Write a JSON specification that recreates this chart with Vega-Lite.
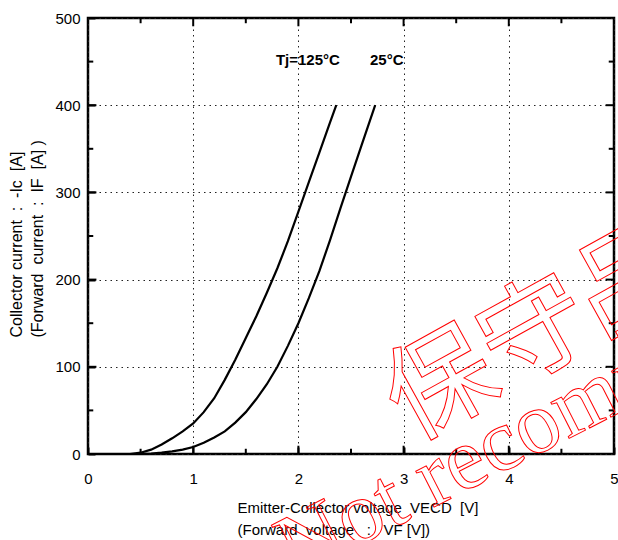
{
  "$schema": "https://vega.github.io/schema/vega-lite/v6.json",
  "width": 526,
  "height": 436,
  "autosize": {"type": "none"},
  "padding": {"left": 88, "top": 18, "right": 4, "bottom": 86},
  "background": "white",
  "config": {
    "view": {"stroke": "black", "strokeWidth": 2.5},
    "font": "Liberation Sans"
  },
  "datasets": {
    "curves": [
      {"Tj": "125C", "V": 0.0, "I": 0},
      {"Tj": "125C", "V": 0.4, "I": 0},
      {"Tj": "125C", "V": 0.5, "I": 1.5},
      {"Tj": "125C", "V": 0.6, "I": 5},
      {"Tj": "125C", "V": 0.7, "I": 11},
      {"Tj": "125C", "V": 0.8, "I": 18},
      {"Tj": "125C", "V": 0.9, "I": 26},
      {"Tj": "125C", "V": 1.0, "I": 35},
      {"Tj": "125C", "V": 1.1, "I": 48},
      {"Tj": "125C", "V": 1.2, "I": 64},
      {"Tj": "125C", "V": 1.3, "I": 85},
      {"Tj": "125C", "V": 1.4, "I": 108},
      {"Tj": "125C", "V": 1.5, "I": 133},
      {"Tj": "125C", "V": 1.6, "I": 158},
      {"Tj": "125C", "V": 1.7, "I": 185},
      {"Tj": "125C", "V": 1.8, "I": 213},
      {"Tj": "125C", "V": 1.9, "I": 244},
      {"Tj": "125C", "V": 2.0, "I": 278},
      {"Tj": "125C", "V": 2.1, "I": 312},
      {"Tj": "125C", "V": 2.2, "I": 346},
      {"Tj": "125C", "V": 2.3, "I": 380},
      {"Tj": "125C", "V": 2.36, "I": 400},
      {"Tj": "25C", "V": 0.0, "I": 0},
      {"Tj": "25C", "V": 0.5, "I": 0},
      {"Tj": "25C", "V": 0.6, "I": 0.5},
      {"Tj": "25C", "V": 0.7, "I": 1.5},
      {"Tj": "25C", "V": 0.8, "I": 3},
      {"Tj": "25C", "V": 0.9, "I": 5},
      {"Tj": "25C", "V": 1.0, "I": 8},
      {"Tj": "25C", "V": 1.1, "I": 13},
      {"Tj": "25C", "V": 1.2, "I": 19},
      {"Tj": "25C", "V": 1.3, "I": 26},
      {"Tj": "25C", "V": 1.4, "I": 36},
      {"Tj": "25C", "V": 1.5, "I": 48},
      {"Tj": "25C", "V": 1.6, "I": 63},
      {"Tj": "25C", "V": 1.7, "I": 80},
      {"Tj": "25C", "V": 1.8, "I": 100},
      {"Tj": "25C", "V": 1.9, "I": 124},
      {"Tj": "25C", "V": 2.0, "I": 150},
      {"Tj": "25C", "V": 2.1, "I": 179},
      {"Tj": "25C", "V": 2.2, "I": 210},
      {"Tj": "25C", "V": 2.3, "I": 245},
      {"Tj": "25C", "V": 2.4, "I": 282},
      {"Tj": "25C", "V": 2.5, "I": 318},
      {"Tj": "25C", "V": 2.6, "I": 354},
      {"Tj": "25C", "V": 2.73, "I": 400}
    ],
    "xmajor": [{"v": 1}, {"v": 2}, {"v": 3}, {"v": 4}],
    "xminor": [{"v": 0.5}, {"v": 1.5}, {"v": 2.5}, {"v": 3.5}, {"v": 4.5}],
    "ymajor": [{"v": 100}, {"v": 200}, {"v": 300}, {"v": 400}],
    "yminor": [{"v": 50}, {"v": 150}, {"v": 250}, {"v": 350}, {"v": 450}]
  },
  "layer": [
    {
      "data": {"name": "curves"},
      "mark": {"type": "line", "color": "black", "strokeWidth": 2.2},
      "encoding": {
        "x": {
          "field": "V", "type": "quantitative",
          "scale": {"domain": [0, 5], "nice": false, "zero": false},
          "axis": {
            "orient": "bottom",
            "values": [0, 1, 2, 3, 4, 5],
            "format": "d",
            "domain": false, "ticks": true, "tickSize": -7, "tickWidth": 2, "tickColor": "black",
            "labelPadding": 24, "labelFontSize": 15, "labelColor": "black", "labelFont": "Liberation Sans",
            "labelFlush": false,
            "grid": true,
            "gridColor": "#222", "gridDash": [1.5, 4], "gridWidth": 1,
            "title": ["Emitter-Collector\u00a0voltage\u00a0\u00a0VECD\u00a0\u00a0[V]", "(Forward\u00a0\u00a0voltage\u00a0\u00a0\u00a0:\u00a0\u00a0\u00a0VF\u00a0[V])"],
            "titleFont": "Liberation Sans", "titleFontSize": 15, "titleFontWeight": "normal", "titleColor": "black",
            "titleAlign": "left", "titleAnchor": "start", "titleBaseline": "top",
            "titleX": 149, "titleY": 46, "titleLineHeight": 22
          }
        },
        "y": {
          "field": "I", "type": "quantitative",
          "scale": {"domain": [0, 500], "nice": false},
          "axis": {
            "orient": "left",
            "values": [0, 100, 200, 300, 400, 500],
            "domain": false, "ticks": true, "tickSize": -7, "tickWidth": 2, "tickColor": "black",
            "labelPadding": 15, "labelFontSize": 15, "labelColor": "black", "labelFont": "Liberation Sans",
            "labelFlush": false,
            "grid": true,
            "gridColor": "#222", "gridDash": [1.5, 4], "gridWidth": 1,
            "title": ["Collector\u00a0current\u00a0\u00a0:\u00a0\u00a0-Ic\u00a0\u00a0[A]", "(Forward\u00a0\u00a0current\u00a0\u00a0:\u00a0\u00a0IF\u00a0\u00a0[A]\u00a0)"],
            "titleFont": "Liberation Sans", "titleFontSize": 16, "titleFontWeight": "normal", "titleColor": "black",
            "titleAngle": -90, "titleAlign": "left", "titleAnchor": "start", "titleBaseline": "top",
            "titleX": -80, "titleY": 319, "titleLineHeight": 21
          }
        },
        "detail": {"field": "Tj", "type": "nominal"}
      }
    },
    {
      "data": {"name": "xmajor"},
      "mark": {"type": "rule", "color": "black", "strokeWidth": 2},
      "encoding": {"x": {"field": "v", "type": "quantitative"}, "y": {"datum": 0, "type": "quantitative"}, "y2": {"datum": 9.5}}
    },
    {
      "data": {"name": "xminor"},
      "mark": {"type": "rule", "color": "black", "strokeWidth": 2},
      "encoding": {"x": {"field": "v", "type": "quantitative"}, "y": {"datum": 0, "type": "quantitative"}, "y2": {"datum": 6}}
    },
    {
      "data": {"name": "xmajor"},
      "mark": {"type": "rule", "color": "black", "strokeWidth": 2},
      "encoding": {"x": {"field": "v", "type": "quantitative"}, "y": {"datum": 500, "type": "quantitative"}, "y2": {"datum": 490.5}}
    },
    {
      "data": {"name": "xminor"},
      "mark": {"type": "rule", "color": "black", "strokeWidth": 2},
      "encoding": {"x": {"field": "v", "type": "quantitative"}, "y": {"datum": 500, "type": "quantitative"}, "y2": {"datum": 494}}
    },
    {
      "data": {"name": "ymajor"},
      "mark": {"type": "rule", "color": "black", "strokeWidth": 2},
      "encoding": {"y": {"field": "v", "type": "quantitative"}, "x": {"datum": 0, "type": "quantitative"}, "x2": {"datum": 0.08}}
    },
    {
      "data": {"name": "yminor"},
      "mark": {"type": "rule", "color": "black", "strokeWidth": 2},
      "encoding": {"y": {"field": "v", "type": "quantitative"}, "x": {"datum": 0, "type": "quantitative"}, "x2": {"datum": 0.05}}
    },
    {
      "data": {"name": "ymajor"},
      "mark": {"type": "rule", "color": "black", "strokeWidth": 2},
      "encoding": {"y": {"field": "v", "type": "quantitative"}, "x": {"datum": 5, "type": "quantitative"}, "x2": {"datum": 4.92}}
    },
    {
      "data": {"name": "yminor"},
      "mark": {"type": "rule", "color": "black", "strokeWidth": 2},
      "encoding": {"y": {"field": "v", "type": "quantitative"}, "x": {"datum": 5, "type": "quantitative"}, "x2": {"datum": 4.95}}
    },
    {
      "data": {"values": [{"label": "Tj=125°C", "V": 2.09, "I": 452}, {"label": "25°C", "V": 2.84, "I": 452}]},
      "mark": {"type": "text", "fontSize": 15, "fontWeight": "bold", "font": "Liberation Sans", "color": "black", "align": "center", "baseline": "middle"},
      "encoding": {
        "text": {"field": "label"},
        "x": {"field": "V", "type": "quantitative"},
        "y": {"field": "I", "type": "quantitative"}
      }
    },
    {
      "data": {"values": [{"label": "保守品"}]},
      "mark": {"type": "text", "fontSize": 108, "font": "Noto Sans CJK JP", "fill": "transparent", "stroke": "red", "strokeWidth": 1, "align": "left", "baseline": "middle", "angle": -29},
      "encoding": {
        "text": {"field": "label"},
        "x": {"datum": 2.92, "type": "quantitative"},
        "y": {"datum": 46, "type": "quantitative"}
      }
    },
    {
      "data": {"values": [{"label": "Not recommended for new design"}]},
      "mark": {"type": "text", "fontSize": 88, "font": "Liberation Serif", "fill": "transparent", "stroke": "red", "strokeWidth": 1, "align": "left", "baseline": "alphabetic", "angle": -27},
      "encoding": {
        "text": {"field": "label"},
        "x": {"datum": 1.97, "type": "quantitative"},
        "y": {"datum": -142, "type": "quantitative"}
      }
    }
  ]
}
